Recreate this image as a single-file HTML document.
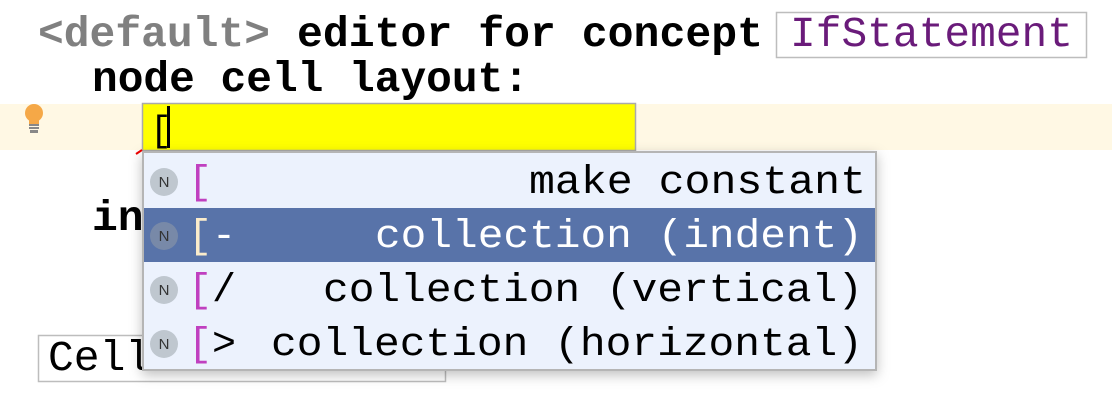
<!DOCTYPE html>
<html><head><style>
html,body{margin:0;padding:0;background:#fff;width:1112px;height:410px;overflow:hidden}
</style></head><body>
<svg width="1112" height="410" xmlns="http://www.w3.org/2000/svg" font-family="Liberation Mono, monospace">
<defs><filter id="sh" x="-5%" y="-5%" width="115%" height="130%"><feDropShadow dx="0" dy="4" stdDeviation="6" flood-opacity="0.25"/></filter></defs>
<rect x="0" y="104" width="1112" height="46" fill="#fff8e4"/>
<!-- bulb -->
<circle cx="34" cy="113" r="9" fill="#f5a847"/>
<rect x="29" y="120" width="10" height="4" fill="#f5a847"/>
<rect x="29" y="124" width="10" height="2" fill="#888"/><rect x="29" y="127" width="10" height="2" fill="#888"/><rect x="30" y="130" width="8" height="3" fill="#888"/>
<text x="38" y="46" font-size="43" font-weight="bold" fill="#808080" textLength="232" lengthAdjust="spacingAndGlyphs">&lt;default&gt;</text>
<text x="297" y="46" font-size="43" font-weight="bold" fill="#000" textLength="466" lengthAdjust="spacingAndGlyphs">editor for concept</text>
<rect x="776.5" y="12.5" width="310" height="45" fill="#fff" stroke="#bdbdbd" stroke-width="1.5"/>
<text x="790" y="46" font-size="43" fill="#6a1b7a" textLength="283" lengthAdjust="spacingAndGlyphs">IfStatement</text>
<text x="92" y="91" font-size="43" font-weight="bold" fill="#000" textLength="437" lengthAdjust="spacingAndGlyphs">node cell layout:</text>
<text x="92" y="230" font-size="43" font-weight="bold" fill="#000">in</text>
<rect x="38.5" y="335.5" width="407" height="46" fill="#fff" stroke="#bdbdbd" stroke-width="1.5"/>
<text x="48" y="370" font-size="43" fill="#000">Cell</text>
<!-- yellow input -->
<rect x="142.5" y="103.5" width="493" height="47" fill="#ffff00" stroke="#aaa" stroke-width="1.5"/>
<text x="150" y="141" font-size="36" fill="#000">[</text>
<rect x="167" y="106" width="3" height="42" fill="#000"/>
<path d="M136 154 L142 150" stroke="#e00" stroke-width="2"/>
<!-- menu -->
<g filter="url(#sh)"><rect x="143" y="152" width="733" height="218" fill="#ecf2fd" stroke="#b5b5b5" stroke-width="2"/></g>
<rect x="144" y="208" width="731" height="54" fill="#5873a9"/>
<g font-size="15" text-anchor="middle" fill="#333" font-family="Liberation Sans, sans-serif">
<circle cx="164" cy="182" r="14" fill="#bfc7cf"/><text x="164" y="187">N</text>
<circle cx="164" cy="236" r="14" fill="#7889a8"/><text x="164" y="241">N</text>
<circle cx="164" cy="290" r="14" fill="#bfc7cf"/><text x="164" y="295">N</text>
<circle cx="164" cy="344" r="14" fill="#bfc7cf"/><text x="164" y="349">N</text>
</g>
<g font-size="40">
<text x="188" y="193" fill="#c040c0">[</text>
<text x="188" y="247" fill="#fbeccb">[</text><text x="212" y="247" fill="#fff">-</text>
<text x="188" y="301" fill="#c040c0">[</text><text x="212" y="301" fill="#000">/</text>
<text x="188" y="355" fill="#c040c0">[</text><text x="212" y="355" fill="#000">&gt;</text>
<text x="529" y="193" fill="#000" textLength="337" lengthAdjust="spacingAndGlyphs">make constant</text>
<text x="375" y="247" fill="#fff" textLength="488" lengthAdjust="spacingAndGlyphs">collection (indent)</text>
<text x="323" y="301" fill="#000" textLength="540" lengthAdjust="spacingAndGlyphs">collection (vertical)</text>
<text x="271" y="355" fill="#000" textLength="592" lengthAdjust="spacingAndGlyphs">collection (horizontal)</text>
</g>
</svg>
</body></html>
